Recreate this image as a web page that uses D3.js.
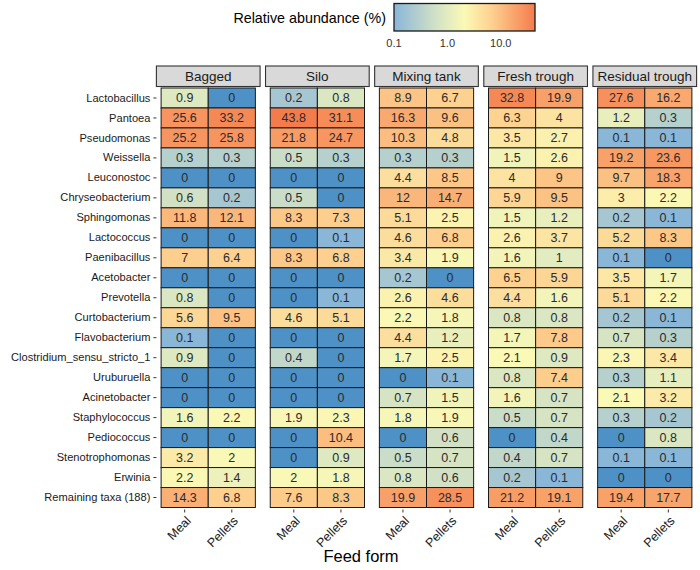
<!DOCTYPE html>
<html>
<head>
<meta charset="utf-8">
<script src="https://cdn.jsdelivr.net/npm/d3@7"></script>
<style>
  body { margin: 0; background: #fff; }
  svg { font-family: "Liberation Sans", Arial, sans-serif; }
</style>
</head>
<body>
<svg width="700" height="570"></svg>
<script>
const taxa = [
  "Lactobacillus", "Pantoea", "Pseudomonas", "Weissella", "Leuconostoc",
  "Chryseobacterium", "Sphingomonas", "Lactococcus", "Paenibacillus",
  "Acetobacter", "Prevotella", "Curtobacterium", "Flavobacterium",
  "Clostridium_sensu_stricto_1", "Uruburuella", "Acinetobacter",
  "Staphylococcus", "Pediococcus", "Stenotrophomonas", "Erwinia",
  "Remaining taxa (188)"
];
const stages = ["Bagged", "Silo", "Mixing tank", "Fresh trough", "Residual trough"];
const forms = ["Meal", "Pellets"];

// [Meal, Pellets] per taxon, same order as taxa
const bagged = [[0.9,0],[25.6,33.2],[25.2,25.8],[0.3,0.3],[0,0],[0.6,0.2],[11.8,12.1],[0,0],[7,6.4],[0,0],
  [0.8,0],[5.6,9.5],[0.1,0],[0.9,0],[0,0],[0,0],[1.6,2.2],[0,0],[3.2,2],[2.2,1.4],[14.3,6.8]];
const silo = [[0.2,0.8],[43.8,31.1],[21.8,24.7],[0.5,0.3],[0,0],[0.5,0],[8.3,7.3],[0,0.1],[8.3,6.8],[0,0],
  [0,0.1],[4.6,5.1],[0,0],[0.4,0],[0,0],[0,0],[1.9,2.3],[0,10.4],[0,0.9],[2,1.8],[7.6,8.3]];
const mixingTank = [[8.9,6.7],[16.3,9.6],[10.3,4.8],[0.3,0.3],[4.4,8.5],[12,14.7],[5.1,2.5],[4.6,6.8],[3.4,1.9],[0.2,0],
  [2.6,4.6],[2.2,1.8],[4.4,1.2],[1.7,2.5],[0,0.1],[0.7,1.5],[1.8,1.9],[0,0.6],[0.5,0.7],[0.8,0.6],[19.9,28.5]];
const freshTrough = [[32.8,19.9],[6.3,4],[3.5,2.7],[1.5,2.6],[4,9],[5.9,9.5],[1.5,1.2],[2.6,3.7],[1.6,1],[6.5,5.9],
  [4.4,1.6],[0.8,0.8],[1.7,7.8],[2.1,0.9],[0.8,7.4],[1.6,0.7],[0.5,0.7],[0,0.4],[0.4,0.7],[0.2,0.1],[21.2,19.1]];
const residualTrough = [[27.6,16.2],[1.2,0.3],[0.1,0.1],[19.2,23.6],[9.7,18.3],[3,2.2],[0.2,0.1],[5.2,8.3],[0.1,0],[3.5,1.7],
  [5.1,2.2],[0.2,0.1],[0.7,0.3],[2.3,3.4],[0.3,1.1],[2.1,3.2],[0.3,0.2],[0,0.8],[0.1,0.1],[0,0],[19.4,17.7]];
const legendTicks = [0.1, 1, 10];

const stageValues = [bagged, silo, mixingTank, freshTrough, residualTrough];
const cells = [];
stages.forEach((s, si) => {
  taxa.forEach((t, ti) => {
    forms.forEach((f, fi) => {
      cells.push({ stage: s, taxon: t, form: f, value: stageValues[si][ti][fi] });
    });
  });
});

const svg = d3.select("svg");

// colour: log scale, zeros get the darker blue
const logT = d3.scaleLog().domain([0.1, 43.8]).range([0, 1]).clamp(true);
const ramp = d3.scaleLinear()
  .domain([0, 0.3, 0.5, 0.7, 1])
  .range(["#8ab6d8", "#d3e2c6", "#fbf9b6", "#fdcf8e", "#f47c4c"]);
const fill = (v) => (v === 0 ? "#4e91c6" : ramp(logT(v)));

const px = d3.scaleBand().domain(stages).range([156.4, 696.6]).paddingInner(0.05);
const pw = px.bandwidth();
const x = d3.scaleBand().domain(forms).range([pw * 0.1 / 2.2, pw * 2.1 / 2.2]);
const y = d3.scaleBand().domain(taxa).range([88, 507.5]);
const panelBottom = 507.5 + y.bandwidth() * 0.1;

// strips
const strips = svg.append("g").selectAll("g").data(stages).join("g")
  .attr("transform", (d) => `translate(${px(d)},66)`);
strips.append("rect")
  .attr("width", pw).attr("height", 20.5)
  .attr("fill", "#d9d9d9").attr("stroke", "#333").attr("stroke-width", 1.1);
strips.append("text")
  .attr("x", pw / 2).attr("y", 15)
  .attr("text-anchor", "middle")
  .attr("font-size", "13.5px").attr("fill", "#1a1a1a")
  .text((d) => d);

// tiles
const tiles = svg.append("g").selectAll("g").data(cells).join("g")
  .attr("transform", (d) => `translate(${px(d.stage) + x(d.form)},${y(d.taxon)})`);
tiles.append("rect")
  .attr("width", x.bandwidth()).attr("height", y.bandwidth())
  .attr("fill", (d) => fill(d.value))
  .attr("stroke", "#1a1a1a").attr("stroke-width", 1);
tiles.append("text")
  .attr("x", x.bandwidth() / 2).attr("y", y.bandwidth() / 2)
  .attr("dy", "0.36em")
  .attr("text-anchor", "middle")
  .attr("font-size", "12.5px").attr("fill", "#2b2b2b")
  .text((d) => String(d.value));

// y axis
svg.append("g")
  .attr("transform", `translate(${px(stages[0])},0)`)
  .call(d3.axisLeft(y).tickSize(3).tickPadding(3))
  .call((g) => g.select(".domain").remove())
  .call((g) => g.selectAll("line").attr("stroke", "#333"))
  .call((g) => g.selectAll("text").attr("font-size", "11.1px").attr("fill", "#1a1a1a")
    .attr("font-family", null));

// x axes, one per panel
stages.forEach((s) => {
  svg.append("g")
    .attr("transform", `translate(${px(s)},${panelBottom})`)
    .call(d3.axisBottom(x).tickSize(3))
    .call((g) => g.select(".domain").remove())
    .call((g) => g.selectAll("line").attr("stroke", "#333"))
    .call((g) => g.selectAll("text")
      .attr("font-family", null)
      .attr("font-size", "12.5px").attr("fill", "#1a1a1a")
      .attr("text-anchor", "end")
      .attr("y", null).attr("dy", null)
      .attr("transform", "translate(7,12) rotate(-45)"));
});

svg.append("text")
  .attr("x", 361).attr("y", 562)
  .attr("text-anchor", "middle")
  .attr("font-size", "16.5px").attr("fill", "#000")
  .text("Feed form");

// legend
const lx = d3.scaleLog().domain([0.1, 43.8]).range([394, 535]);
const grad = svg.append("defs").append("linearGradient").attr("id", "lg");
d3.range(0, 1.0001, 0.05).forEach((t) => {
  grad.append("stop").attr("offset", t).attr("stop-color", ramp(t));
});
svg.append("rect")
  .attr("x", lx(0.1)).attr("y", 3.5)
  .attr("width", lx(43.8) - lx(0.1)).attr("height", 27.5)
  .attr("fill", "url(#lg)").attr("stroke", "#1a1a1a").attr("stroke-width", 1.3);
svg.append("text")
  .attr("x", 386).attr("y", 23)
  .attr("text-anchor", "end")
  .attr("font-size", "14.3px").attr("fill", "#000")
  .text("Relative abundance (%)");
svg.append("g").selectAll("text").data(legendTicks).join("text")
  .attr("x", (d) => lx(d)).attr("y", 47)
  .attr("text-anchor", "middle")
  .attr("font-size", "11px").attr("fill", "#333")
  .text(d3.format(".1f"));
</script>
</body>
</html>
